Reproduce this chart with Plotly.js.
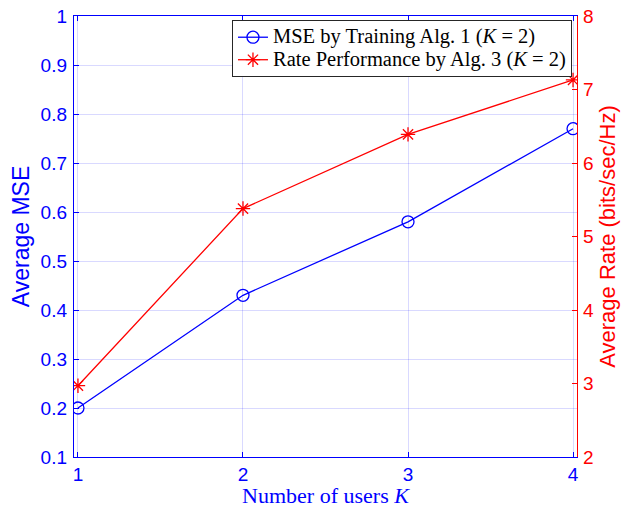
<!DOCTYPE html>
<html>
<head>
<meta charset="utf-8">
<script src="https://cdn.plot.ly/plotly-3.0.1.min.js"></script>
<style>html,body{margin:0;padding:0;background:#fff;}#chart{width:629px;height:508px;}</style>
</head>
<body>
<div id="chart"></div>
<script>
const users = [1, 2, 3, 4];
const avgMSE = [0.2, 0.43, 0.58, 0.77];
const avgRate = [2.97, 5.38, 6.39, 7.13];
const xTicks = [1, 2, 3, 4];
const mseTicks = [0.1, 0.2, 0.3, 0.4, 0.5, 0.6, 0.7, 0.8, 0.9, 1];
const mseTickText = ['0.1', '0.2', '0.3', '0.4', '0.5', '0.6', '0.7', '0.8', '0.9', '1'];
const rateTicks = [2, 3, 4, 5, 6, 7, 8];
const seriesNames = ['MSE by Training Alg. 1 (<i>K</i> = 2)', 'Rate Performance by Alg. 3 (<i>K</i> = 2)'];

const BLUE = '#0000ff', RED = '#ff0000';
const sans = 'Liberation Sans, Arial, Helvetica, sans-serif';
const serif = 'Liberation Serif, Times New Roman, serif';
const big = s => '<span style="font-size:20.5px">' + s + '</span>';

const traces = [
  {
    x: users, y: avgMSE, name: big(seriesNames[0]), type: 'scatter', mode: 'lines+markers',
    line: {color: BLUE, width: 1.3},
    marker: {symbol: 'circle-open', size: 12, color: BLUE, line: {width: 1.3, color: BLUE}},
    yaxis: 'y'
  },
  {
    x: users, y: avgRate, name: big(seriesNames[1]), type: 'scatter', mode: 'lines+markers',
    line: {color: RED, width: 1.3},
    marker: {symbol: 'asterisk-open', size: 12, color: RED, line: {width: 1.3, color: RED}},
    yaxis: 'y2'
  }
];

const layout = {
  width: 629, height: 508,
  margin: {l: 74, r: 52, t: 16, b: 51, pad: 0},
  paper_bgcolor: '#fff', plot_bgcolor: '#fff',
  showlegend: true,
  xaxis: {
    range: [0.976, 4.024], tickvals: xTicks, ticktext: xTicks.map(String),
    ticks: 'inside', ticklen: 5, tickwidth: 1, tickcolor: BLUE,
    showline: true, linecolor: BLUE, linewidth: 1.2, mirror: 'ticks',
    showgrid: true, gridcolor: 'rgba(0,0,255,0.15)', gridwidth: 1, zeroline: false,
    tickfont: {family: sans, size: 19, color: BLUE}, ticklabelstandoff: 0,
    title: {text: 'Number of users <i>K</i>', font: {family: serif, size: 22, color: BLUE}, standoff: 4}
  },
  yaxis: {
    range: [0.1, 1], tickvals: mseTicks, ticktext: mseTickText,
    ticks: 'inside', ticklen: 5, tickwidth: 1, tickcolor: BLUE,
    showline: true, linecolor: BLUE, linewidth: 1.2, mirror: false,
    showgrid: true, gridcolor: 'rgba(0,0,255,0.15)', gridwidth: 1, zeroline: false,
    tickfont: {family: sans, size: 19, color: BLUE}, ticklabelstandoff: 2,
    title: {text: 'Average MSE', font: {family: sans, size: 23, color: BLUE}, standoff: 4}
  },
  yaxis2: {
    range: [2, 8], tickvals: rateTicks, ticktext: rateTicks.map(String),
    overlaying: 'y', side: 'right',
    ticks: 'inside', ticklen: 5, tickwidth: 1, tickcolor: RED,
    showline: true, linecolor: RED, linewidth: 1.2,
    showgrid: false, zeroline: false,
    tickfont: {family: sans, size: 19, color: RED}, ticklabelstandoff: 1,
    title: {text: 'Average Rate (bits/sec/Hz)', font: {family: sans, size: 22, color: RED}, standoff: 6}
  },
  legend: {
    x: 0.990, y: 0.991, xanchor: 'right', yanchor: 'top',
    bgcolor: '#fff', bordercolor: '#262626', borderwidth: 1,
    font: {family: serif, size: 15, color: '#000'}, valign: 'middle',
    itemwidth: 30, tracegroupgap: 0
  }
};

Plotly.newPlot('chart', traces, layout, {displayModeBar: false, staticPlot: true});
</script>
</body>
</html>
